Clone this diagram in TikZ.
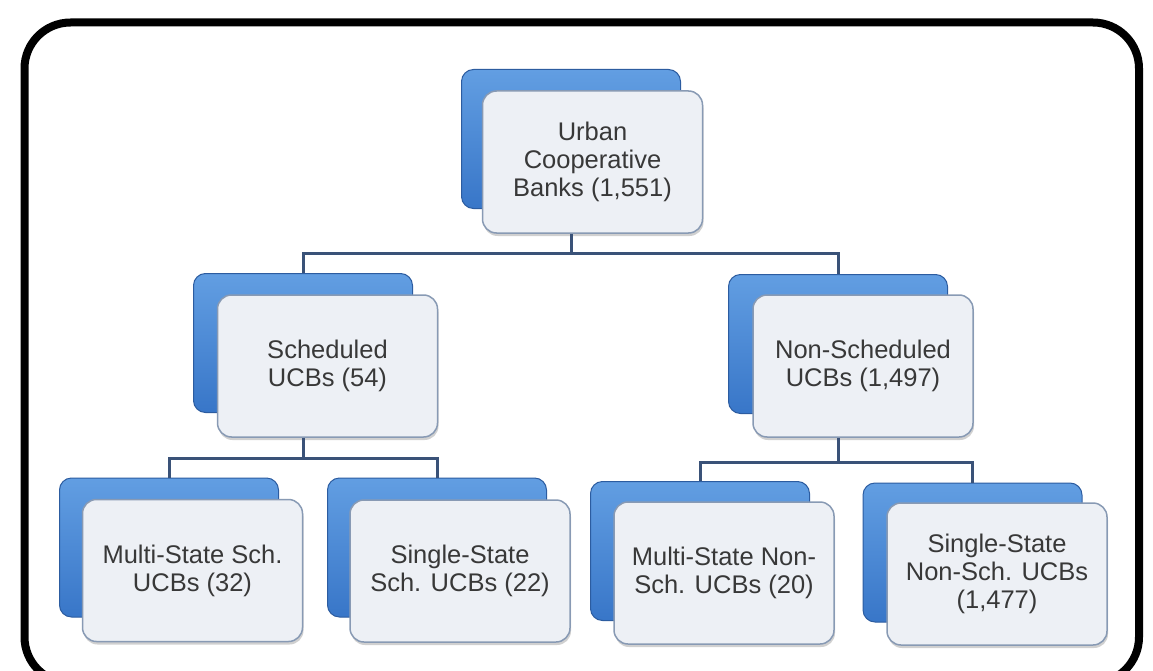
\documentclass[tikz,border=0pt]{standalone}
\usepackage{fontspec}
\setmainfont{Liberation Sans}
\definecolor{ucbblue}{RGB}{56,118,200}
\definecolor{ucbbluetop}{RGB}{98,158,226}
\definecolor{ucbblueedge}{RGB}{44,92,160}
\definecolor{ucbpanel}{RGB}{237,240,245}
\definecolor{ucbpanelline}{RGB}{136,154,180}
\definecolor{ucbline}{RGB}{58,82,120}
\definecolor{ucbtext}{RGB}{56,56,56}
\usetikzlibrary{shadows}

\begin{document}
\begin{tikzpicture}[x=1pt,y=-1pt,
  back/.style={draw=ucbblueedge,line width=1pt,rounded corners=12pt,top color=ucbbluetop,bottom color=ucbblue,minimum width=219pt,minimum height=139pt,inner sep=0pt},
  panel/.style={draw=ucbpanelline,line width=1.5pt,rounded corners=14pt,fill=ucbpanel,minimum width=220pt,minimum height=142pt,inner sep=0pt,align=center,text=ucbtext,font=\fontsize{25.5}{28}\selectfont,drop shadow={shadow xshift=1pt,shadow yshift=-3pt,opacity=0.3,fill=black!60}},
  link/.style={draw=ucbline,line width=3pt},
  frame/.style={draw=black,line width=8pt,rounded corners=46pt}]
  \useasboundingbox (0,0) rectangle (1153,671);
  \clip (0,0) rectangle (1153,671);
  \fill[white] (0,0) rectangle (1153,671);
  % Outer frame
  \draw[frame] (24.5,22.5) rectangle (1139,683);
  % Top level
  \node[back] (ucbB) at (571,139) {};
  \node[panel] (ucb) at (592.5,162) {Urban\\Cooperative\\Banks (1,551)};
  % Second level
  \node[back] (schB) at (303,343) {};
  \node[panel] (sch) at (327.5,366) {Scheduled\\UCBs (54)};
  \node[back] (nschB) at (838,344) {};
  \node[panel] (nsch) at (863,366) {Non-Scheduled\\UCBs (1,497)};
  % Third level
  \node[back] (mschB) at (169,547.5) {};
  \node[panel] (msch) at (192.5,570.5) {Multi-State Sch.\\UCBs (32)};
  \node[back] (sschB) at (437,547.5) {};
  \node[panel] (ssch) at (460,571) {Single-State\\Sch. UCBs (22)};
  \node[back] (mnschB) at (700,551) {};
  \node[panel] (mnsch) at (724,573) {Multi-State Non-\\Sch. UCBs (20)};
  \node[back] (snschB) at (972.5,552.5) {};
  \node[panel] (snsch) at (997,574) {Single-State\\Non-Sch. UCBs\\(1,477)};
  % Links
  \coordinate (bus1) at (0,253);
  \coordinate (bus2) at (0,458);
  \coordinate (bus3) at (0,462);
  \draw[link] (ucbB |- ucb.south) -- (ucbB |- bus1) -| (schB.north);
  \draw[link] (ucbB |- bus1) -| (nschB.north);
  \draw[link] (schB |- sch.south) -- (schB |- bus2) -| (mschB.north);
  \draw[link] (schB |- bus2) -| (sschB.north);
  \draw[link] (nschB |- nsch.south) -- (nschB |- bus3) -| (mnschB.north);
  \draw[link] (nschB |- bus3) -| (snschB.north);
\end{tikzpicture}
\end{document}
